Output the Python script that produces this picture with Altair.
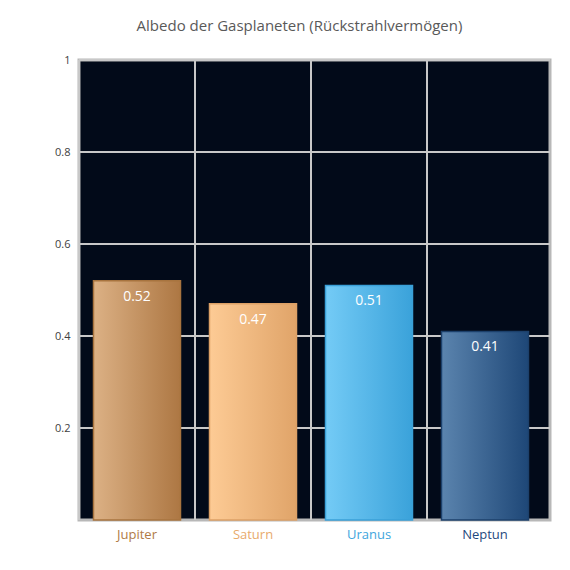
import altair as alt
import pandas as pd

planets = ["Jupiter", "Saturn", "Uranus", "Neptun"]
albedo = [0.52, 0.47, 0.51, 0.41]
grad_left = ["#dcb185", "#fdcb95", "#74cbf6", "#5b84ae"]
grad_right = ["#ad7743", "#e0a469", "#3aa2da", "#1e4777"]
strokes = ["#a8743f", "#dca066", "#3aa0d8", "#1c406b"]
label_colors = ["#b07a45", "#e8aa6c", "#3ea5dd", "#1f497d"]
y_ticks = [0.2, 0.4, 0.6, 0.8, 1]

df = pd.DataFrame({"planet": planets, "albedo": albedo})
grid_df = pd.DataFrame({"tick": y_ticks})

FONT = "Open Sans"

label_expr = " : ".join(
    [f"datum.value == '{p}' ? '{c}'" for p, c in zip(planets, label_colors)]
) + " : '#404040'"

y_scale = alt.Scale(domain=[0, 1], nice=False, zero=True)
y_axis = alt.Axis(
    values=y_ticks, format="~g", ticks=False, domain=False,
    grid=False,
    labelFontSize=11, labelFont=FONT, labelColor="#404040", labelPadding=9,
)

x_bar = alt.X(
    "planet:N",
    sort=planets,
    title=None,
    scale=alt.Scale(domain=planets, range=[0, 464], paddingInner=0.25, paddingOuter=0.125),
    axis=alt.Axis(
        ticks=False, domain=False, grid=False, labelAngle=0,
        labelFontSize=13, labelFont=FONT, labelPadding=8,
        labelColor=alt.ExprRef(expr=label_expr),
    ),
)
y_enc = alt.Y("albedo:Q", title=None, scale=y_scale, axis=y_axis)

base = alt.Chart(df)

hgrid = alt.Chart(grid_df).mark_rule(color="#c8c8c8", strokeWidth=2).encode(
    y=alt.Y("tick:Q", title=None, scale=y_scale, axis=y_axis),
    x=alt.value(0),
    x2=alt.value(471),
)

vgrid = base.mark_rule(color="#c8c8c8", strokeWidth=2).encode(
    x=alt.X(
        "planet:N", sort=planets, bandPosition=0, title=None,
        scale=alt.Scale(domain=planets, range=[0, 464], paddingInner=0, paddingOuter=0),
        axis=None,
    ),
    y=alt.value(0),
    y2=alt.value(460),
)

bars = []
for p, l, r, s in zip(planets, grad_left, grad_right, strokes):
    grad = alt.LinearGradient(
        gradient="linear",
        stops=[alt.GradientStop(color=l, offset=0), alt.GradientStop(color=r, offset=1)],
        x1=0, x2=1, y1=0, y2=0,
    )
    bars.append(
        base.transform_filter(alt.datum.planet == p)
        .mark_bar(color=grad, stroke=s, strokeWidth=1.5)
        .encode(x=x_bar, y=y_enc)
    )

text = base.mark_text(
    color="white", fontSize=14, font=FONT, baseline="middle", dy=16
).encode(
    x=alt.X("planet:N", sort=planets),
    y=alt.Y("albedo:Q"),
    text=alt.Text("albedo:Q", format=".2f"),
)

inner = alt.layer(*bars, text)

chart = (
    alt.layer(hgrid, vgrid, inner)
    .resolve_scale(x="independent")
    .properties(
        width=471,
        height=460,
        title=alt.TitleParams(
            "Albedo der Gasplaneten (Rückstrahlvermögen)",
            fontSize=15, font=FONT, color="#595959", fontWeight="normal",
            anchor="middle", offset=20, dx=-15,
        ),
        autosize=alt.AutoSizeParams(type="none"),
        padding={"left": 71, "top": 52, "right": 12, "bottom": 42},
    )
    .configure_view(fill="#020a19", stroke="#b8b8b8", strokeWidth=3)
)

chart.save("out.html", embed_options={"renderer": "svg", "actions": False})
